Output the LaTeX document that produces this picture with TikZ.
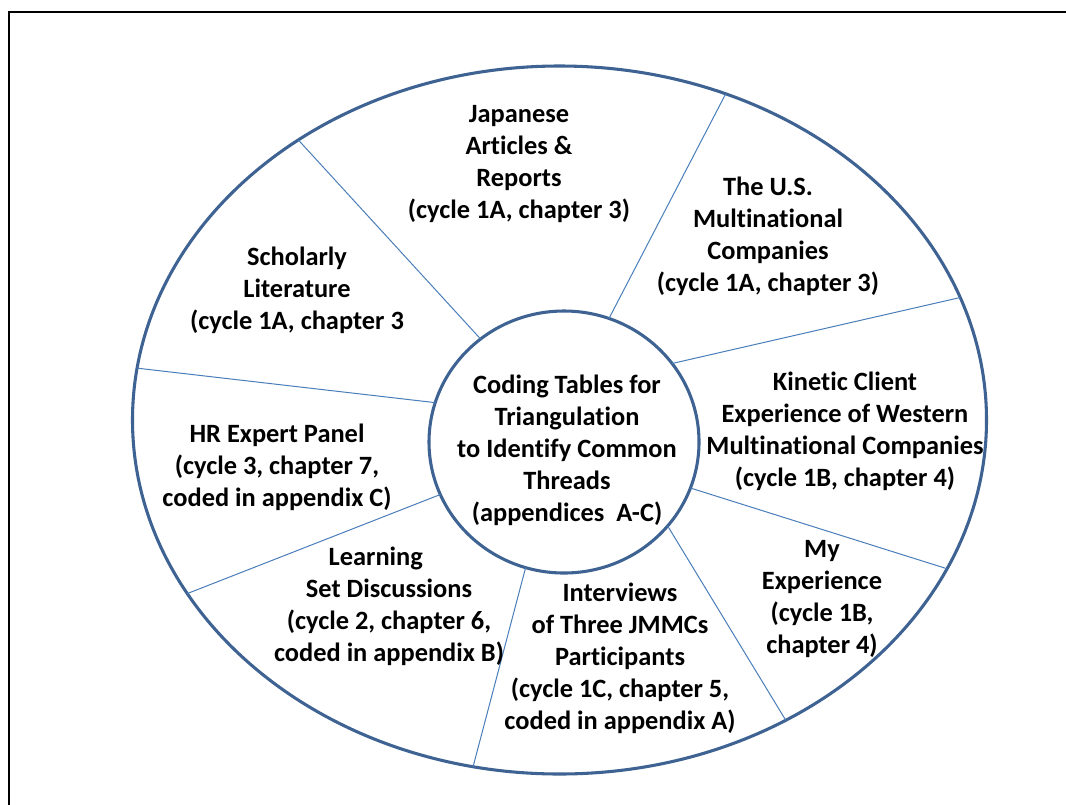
\documentclass[tikz,border=0pt]{standalone}
\usepackage{fontspec}
\setmainfont{Carlito}[Ligatures=NoCommon]
\usetikzlibrary{shapes.geometric}
\definecolor{rimblue}{HTML}{3E6393}
\definecolor{spokeblue}{HTML}{4A7EBB}
\tikzset{
  ring/.style={draw=rimblue, line width=2.3pt, ellipse, inner sep=0pt, outer sep=0pt},
  spoke/.style={draw=spokeblue, line width=0.75pt},
  lbl/.style={align=center, inner sep=0pt, font=\fontsize{19.8}{24}\selectfont\bfseries},
  frame/.style={draw=black, line width=1.9pt}
}
\begin{document}
\begin{tikzpicture}[x=0.75pt, y=-0.75pt]
\useasboundingbox (0,0) rectangle (1066,804);
\fill[white] (0,0) rectangle (1066,804);
% page frame, open on the right and bottom
\draw[frame] (9,820) -- (9,12) -- (1080,12);

% outer rim and central hub
\node[ring, minimum width=640.5pt, minimum height=531pt] (rim) at (559.5,420) {};
\node[ring, minimum width=202.5pt, minimum height=196.5pt] (hub) at (564,442) {};

% spokes between hub and rim
\draw[spoke] (hub.129.2) -- (rim.133.8);
\draw[spoke] (hub.70.6)  -- (rim.63.6);
\draw[spoke] (hub.36.6)  -- (rim.17.1);
\draw[spoke] (hub.-20.9) -- (rim.-21.4);
\draw[spoke] (hub.-39.4) -- (rim.-53.5);
\draw[spoke] (hub.-107.7) -- (rim.-104.0);
\draw[spoke] (hub.203.3) -- (rim.205.7);
\draw[spoke] (hub.163.4) -- (rim.173.0);

% sector labels
\node[lbl] (hubtext) at (567,450) {Coding Tables for\\Triangulation\\to Identify Common\\Threads\\(appendices\hspace{0.45em}A-C)};
\node[lbl] (japanese) at (519,164) {Japanese\\Articles \&\\Reports\\(cycle 1A, chapter 3)};
\node[lbl] (us) at (768,236) {The U.S.\\Multinational\\Companies\\(cycle 1A, chapter 3)};
\node[lbl] (scholarly) at (297,290) {Scholarly\\Literature\\(cycle 1A, chapter 3};
\node[lbl] (kinetic) at (845,431) {Kinetic Client\\Experience of Western\\Multinational Companies\\(cycle 1B, chapter 4)};
\node[lbl] (hr) at (277,467) {HR Expert Panel\\(cycle 3, chapter 7,\\coded in appendix C)};
\node[lbl] (learning) at (389,606) {Learning\hspace*{1em}\\Set Discussions\\(cycle 2, chapter 6,\\coded in appendix B)};
\node[lbl] (interviews) at (620,658) {Interviews\\of Three JMMCs\\Participants\\(cycle 1C, chapter 5,\\coded in appendix A)};
\node[lbl] (myexp) at (822,599) {My\\Experience\\(cycle 1B,\\chapter 4)};
\end{tikzpicture}
\end{document}
